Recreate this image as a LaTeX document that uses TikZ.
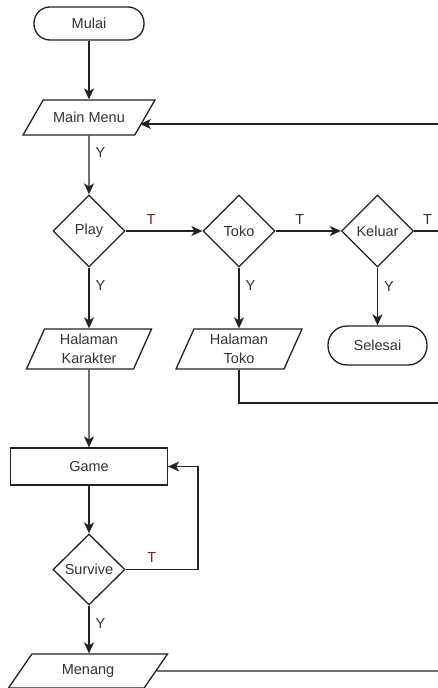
\documentclass[tikz,border=0pt]{standalone}
\usepackage{fontspec}
\setmainfont{Liberation Sans}
\usetikzlibrary{shapes.geometric,arrows.meta}

\definecolor{linegray}{HTML}{222222}
\definecolor{textgray}{HTML}{333333}
\definecolor{tred}{HTML}{7A2020}

\begin{document}
\begin{tikzpicture}[x=1pt, y=-1pt, % one unit is one pixel, y runs downward
  every node/.style={font=\fontsize{14.5}{18.5}\selectfont, text=textgray},
  shapebase/.style={draw=linegray, line width=1.3pt, fill=white},
  term/.style={shapebase, rectangle, rounded corners=16pt, minimum width=110pt, minimum height=33pt},
  io/.style={shapebase, trapezium, trapezium left angle=60, trapezium right angle=120,
    trapezium stretches body, inner xsep=1pt, inner ysep=1pt, minimum height=35pt, align=center},
  proc/.style={shapebase, rectangle, minimum width=157pt, minimum height=37pt},
  dec/.style={shapebase, diamond, inner sep=0pt, minimum width=72pt, minimum height=72pt},
  link/.style={draw=linegray, line width=1.3pt},
  arr/.style={link, -{Stealth[length=11pt,width=10pt,inset=3pt]}},
  lbl/.style={inner sep=6pt}
]

  \useasboundingbox (0,0) rectangle (438,688);

  % Start and menu
  \node (mulai) at (89,23.5) [term] {Mulai};
  \node (menu) at (89,117.5) [io, inner ysep=12.2pt, minimum width=132pt] {Main Menu};

  % Choices
  \node (play) at (89,231) [dec] {Play};
  \node (toko) at (239,231) [dec] {Toko};
  \node (keluar) at (377.5,231) [dec] {Keluar};

  % Pages
  \node (halkar) at (89,349) [io, minimum width=125pt, minimum height=40pt] {Halaman\\Karakter};
  \node (haltoko) at (239,349) [io, minimum width=126pt, minimum height=40pt] {Halaman\\Toko};
  \node (selesai) at (377.5,345.5) [term, minimum width=99pt, minimum height=39pt, rounded corners=19pt] {Selesai};

  % Game loop
  \node (game) at (89,466.5) [proc] {Game};
  \node (survive) at (89,569.5) [dec, minimum height=71pt] {Survive};
  \node (menang) at (88,671) [io, inner ysep=10.2pt, trapezium left angle=55, trapezium right angle=125,
    minimum width=159pt, minimum height=34pt] {Menang};

  % Free ends at the right edge
  \coordinate (menuback) at (438,124);
  \coordinate (menuin) at (140,124);
  \coordinate (keluarout) at (438,231);
  \coordinate (tokoback) at (438,403);
  \coordinate (menangout) at (438,671);
  \coordinate (loop) at (198,569.5);

  % Connectors
  \draw[arr] (mulai) -- (menu);
  \draw[arr] (menu) -- node[lbl, pos=0.28, right] {Y} (play);
  \draw[arr] (play) -- node[lbl, pos=0.33, above, text=tred] {T} (toko);
  \draw[arr] (toko) -- node[lbl, pos=0.37, above] {T} (keluar);
  \draw[link] (keluar.east) -- node[lbl, pos=0.56, above] {T} (keluarout);
  \draw[arr] (play) -- node[lbl, pos=0.3, right] {Y} (halkar);
  \draw[arr] (toko) -- node[lbl, pos=0.3, right] {Y} (haltoko);
  \draw[arr] (keluar) -- node[lbl, pos=0.32, right] {Y} (selesai);
  \draw[link] (haltoko.south) |- (tokoback);
  \draw[arr] (menuback) -- (menuin);
  \draw[arr] (halkar) -- (game);
  \draw[arr] (game) -- (survive);
  \draw[arr] (survive.east) -- node[lbl, pos=0.36, above, text=tred] {T} (loop) |- (game.east);
  \draw[arr] (survive.south) -- node[lbl, pos=0.375, right] {Y} (survive.south |- menang.north);
  \draw[link] (menang.east) -- (menangout);
\end{tikzpicture}
\end{document}
